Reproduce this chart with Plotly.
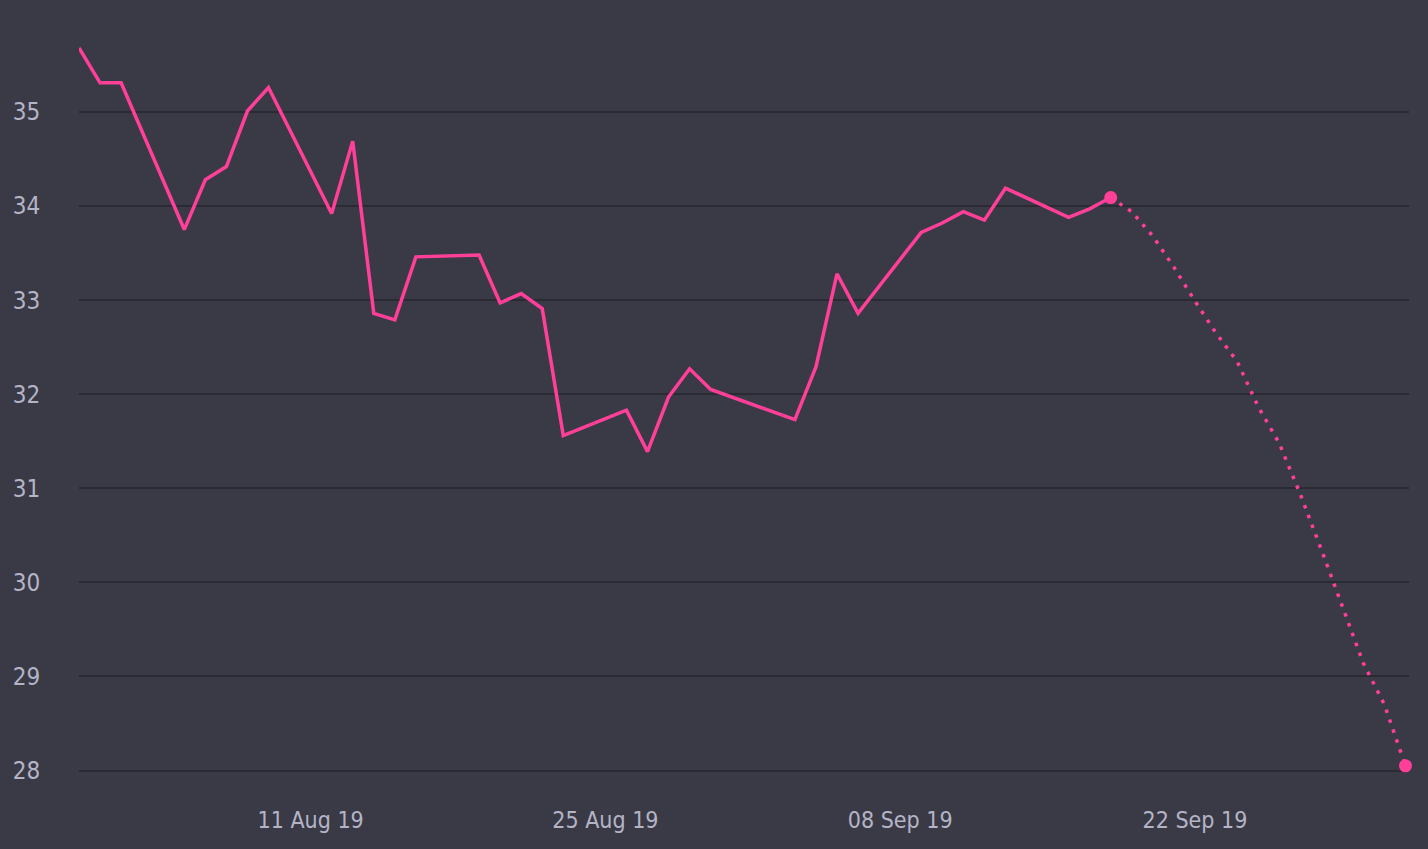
import plotly.graph_objects as go

actual_dates = [
    "2019-07-31", "2019-08-01", "2019-08-02", "2019-08-05", "2019-08-06", "2019-08-07",
    "2019-08-08", "2019-08-09", "2019-08-12", "2019-08-13", "2019-08-14", "2019-08-15",
    "2019-08-16", "2019-08-19", "2019-08-20", "2019-08-21", "2019-08-22", "2019-08-23",
    "2019-08-26", "2019-08-27", "2019-08-28", "2019-08-29", "2019-08-30", "2019-09-03",
    "2019-09-04", "2019-09-05", "2019-09-06", "2019-09-09", "2019-09-10", "2019-09-11",
    "2019-09-12", "2019-09-13", "2019-09-16", "2019-09-17", "2019-09-18",
]
actual_values = [
    35.68, 35.31, 35.31, 33.75, 34.28, 34.42,
    35.01, 35.26, 33.92, 34.69, 32.86, 32.79,
    33.46, 33.48, 32.97, 33.07, 32.91, 31.56,
    31.83, 31.39, 31.97, 32.27, 32.05, 31.73,
    32.29, 33.28, 32.86, 33.72, 33.82, 33.94,
    33.85, 34.19, 33.88, 33.97, 34.09,
]

forecast_dates = [
    "2019-09-18", "2019-09-19", "2019-09-20", "2019-09-21", "2019-09-22", "2019-09-23",
    "2019-09-24", "2019-09-25", "2019-09-26", "2019-09-27", "2019-09-28", "2019-09-29",
    "2019-09-30", "2019-10-01", "2019-10-02",
]
forecast_values = [
    34.09, 33.94, 33.68, 33.35, 32.99, 32.65,
    32.35, 31.87, 31.48, 30.94, 30.35, 29.75,
    29.14, 28.70, 28.05,
]

tick_dates = ["2019-08-11", "2019-08-25", "2019-09-08", "2019-09-22"]
tick_labels = ["11 Aug 19", "25 Aug 19", "08 Sep 19", "22 Sep 19"]
y_ticks = [28, 29, 30, 31, 32, 33, 34, 35]

pink = "#ff3f98"
bg = "#3a3a46"
grid = "#2a2a33"
label = "#b4b4c6"
font_family = "DejaVu Sans Condensed, Roboto, sans-serif"

fig = go.Figure()
fig.add_trace(go.Scatter(
    x=forecast_dates, y=forecast_values, mode="lines",
    line=dict(color=pink, width=3.5, dash="3.5px,7px"), hoverinfo="skip", showlegend=False,
))
fig.add_trace(go.Scatter(
    x=actual_dates, y=actual_values, mode="lines",
    line=dict(color=pink, width=3.5), showlegend=False,
))
fig.add_trace(go.Scatter(
    x=[actual_dates[-1], forecast_dates[-1]], y=[actual_values[-1], forecast_values[-1]],
    mode="markers", marker=dict(color=pink, size=13), showlegend=False, cliponaxis=False,
))

fig.update_layout(
    width=1428, height=849,
    paper_bgcolor=bg, plot_bgcolor=bg,
    margin=dict(l=79, r=19, t=0, b=54),
    font=dict(family=font_family, color=label, size=23),
    xaxis=dict(
        type="date",
        range=["2019-07-31", "2019-10-02 04:00"],
        tickvals=tick_dates, ticktext=tick_labels,
        showgrid=False, zeroline=False, showline=False,
        ticks="outside", ticklen=4, tickcolor="rgba(0,0,0,0)",
        tickfont=dict(size=23, color=label, family=font_family, weight=300),
    ),
    yaxis=dict(
        range=[27.74, 36.19],
        tickvals=y_ticks,
        showgrid=True, gridcolor=grid, gridwidth=2,
        zeroline=False, showline=False,
        ticks="outside", ticklen=33, tickcolor="rgba(0,0,0,0)",
        tickfont=dict(size=24, color=label, family=font_family, weight=300),
    ),
)

fig.write_html(
    "out.html",
    config={"displayModeBar": False},
    post_script="document.body.style.margin='0';document.body.style.background='" + bg + "';",
)
